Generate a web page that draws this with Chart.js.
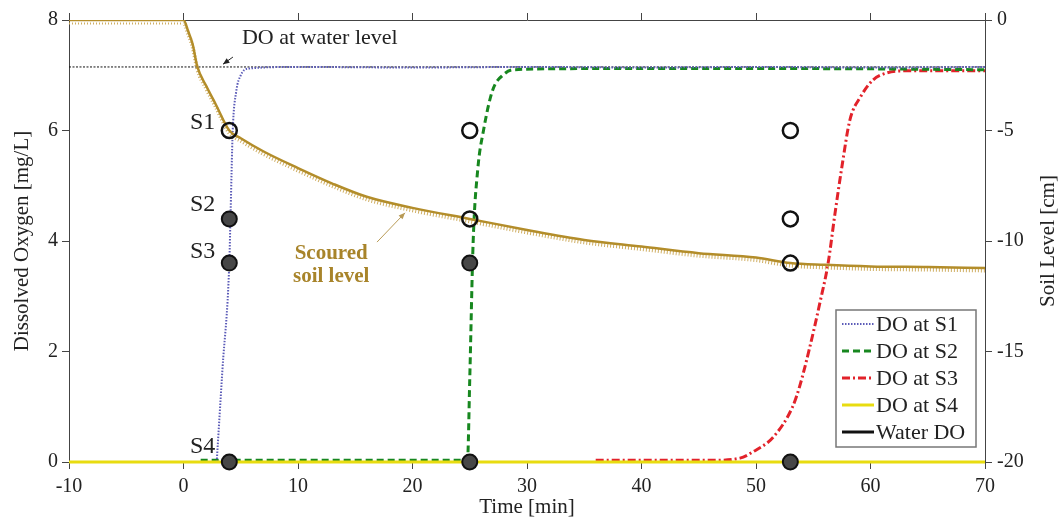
<!DOCTYPE html>
<html>
<head>
<meta charset="utf-8">
<script src="https://cdn.jsdelivr.net/npm/chart.js@4.4.0/dist/chart.umd.min.js"></script>
<style>
html, body { margin: 0; padding: 0; background: #fff; }
#wrap { width: 1062px; height: 519px; }
</style>
</head>
<body>
<div id="wrap"><canvas id="do-chart"></canvas></div>
<script>
// time [min] / dissolved oxygen [mg/L] for each sensor
var timeS1 = [2.9, 3.4, 4.0, 4.1, 4.3, 4.6, 5.0, 5.6, 10, 20, 30, 40, 50, 60, 70];
var doS1   = [0, 1.67, 3.6, 4.4, 6.0, 6.7, 7.0, 7.12, 7.15, 7.14, 7.15, 7.14, 7.15, 7.14, 7.15];

var timeS2 = [1.5, 24.8, 25.0, 25.3, 25.7, 26.2, 27.0, 28.0, 28.8, 35, 45, 55, 70];
var doS2   = [0.03, 0.03, 1.5, 4.0, 5.3, 6.0, 6.73, 7.02, 7.1, 7.12, 7.12, 7.12, 7.1];

var timeS3 = [36, 46, 48.6, 49.7, 51.5, 53.2, 53.8, 54.7, 55.6, 56.3, 56.9, 57.5, 58.2, 59.1, 60.2, 61.4, 63, 70];
var doS3   = [0.03, 0.03, 0.07, 0.18, 0.45, 1.0, 1.36, 2.08, 2.9, 3.6, 4.5, 5.34, 6.19, 6.6, 6.91, 7.04, 7.08, 7.08];

var timeS4 = [-10, 70];
var doS4   = [0, 0];

var timeWater = [-10, 70];
var doWater   = [7.15, 7.15];

// scoured soil level [cm]
var timeSoil  = [-10, 0, 0.4, 0.8, 1.2, 2.0, 2.8, 4.0, 5.0, 7.0, 10, 13, 16, 20, 25, 30, 35, 40, 45, 50, 53, 56, 60, 65, 70];
var soilLevel = [0, 0, -0.5, -1.1, -2.1, -3.0, -3.8, -5.0, -5.35, -5.95, -6.7, -7.4, -8.0, -8.5, -9.0, -9.5, -9.95, -10.25, -10.55, -10.75, -11.0, -11.08, -11.15, -11.18, -11.22];

// sensor markers: open = above soil / in water, filled = buried
var openT   = [4, 25, 53, 25, 53, 53];
var openDO  = [6, 6, 6, 4.4, 4.4, 3.6];
var filledT  = [4, 4, 4, 25, 25, 53];
var filledDO = [4.4, 3.6, 0, 3.6, 0, 0];

var xTicks = [-10, 0, 10, 20, 30, 40, 50, 60, 70];
var doTicks = [0, 2, 4, 6, 8];
var soilTicks = [-20, -15, -10, -5, 0];

var serif = '"Liberation Serif", "Times New Roman", serif';
var soilColor = '#b38d2a';

function pairs(xs, ys) {
    return xs.map(function(x, i) { return {x: x, y: ys[i]}; });
}

// hatch under the soil line, drawn a few px lower
var hatchShift = {
    id: 'hatchShift',
    beforeDatasetDraw: function(chart, args) {
        if (chart.data.datasets[args.index].hatch) {
            chart.ctx.save();
            chart.ctx.translate(0, 2.5);
        }
    },
    afterDatasetDraw: function(chart, args) {
        if (chart.data.datasets[args.index].hatch) chart.ctx.restore();
    }
};

function arrow(ctx, x1, y1, x2, y2, color) {
    var a = Math.atan2(y2 - y1, x2 - x1);
    ctx.strokeStyle = color;
    ctx.fillStyle = color;
    ctx.lineWidth = 1;
    ctx.beginPath();
    ctx.moveTo(x1, y1);
    ctx.lineTo(x2, y2);
    ctx.stroke();
    ctx.beginPath();
    ctx.moveTo(x2, y2);
    ctx.lineTo(x2 - 7 * Math.cos(a - 0.4), y2 - 7 * Math.sin(a - 0.4));
    ctx.lineTo(x2 - 7 * Math.cos(a + 0.4), y2 - 7 * Math.sin(a + 0.4));
    ctx.closePath();
    ctx.fill();
}

var notes = {
    id: 'notes',
    afterDraw: function(chart) {
        var ctx = chart.ctx;
        var xs = chart.scales.x, ys = chart.scales.y;
        ctx.save();

        // sensor names
        ctx.fillStyle = '#222';
        ctx.font = '24px ' + serif;
        ctx.textAlign = 'right';
        ctx.textBaseline = 'middle';
        [['S1', 6, -8], ['S2', 4.4, -14], ['S3', 3.6, -11], ['S4', 0, -15]].forEach(function(s) {
            ctx.fillText(s[0], xs.getPixelForValue(4) - 14, ys.getPixelForValue(s[1]) + s[2]);
        });

        // DO at water level
        ctx.font = '22px ' + serif;
        ctx.textAlign = 'left';
        ctx.fillText('DO at water level', xs.getPixelForValue(5.1), ys.getPixelForValue(7.67));
        arrow(ctx, xs.getPixelForValue(4.32), ys.getPixelForValue(7.33),
              xs.getPixelForValue(3.45), ys.getPixelForValue(7.2), '#222');

        // scoured soil level
        ctx.fillStyle = '#a8842a';
        ctx.font = 'bold 21px ' + serif;
        ctx.textAlign = 'center';
        ctx.fillText('Scoured', xs.getPixelForValue(12.9), ys.getPixelForValue(3.78));
        ctx.fillText('soil level', xs.getPixelForValue(12.9), ys.getPixelForValue(3.35));
        arrow(ctx, xs.getPixelForValue(16.9), ys.getPixelForValue(3.98),
              xs.getPixelForValue(19.35), ys.getPixelForValue(4.51), '#b89a55');

        // right axis title, reading upwards
        ctx.fillStyle = '#222';
        ctx.font = '21px ' + serif;
        ctx.translate(1048, (chart.chartArea.top + chart.chartArea.bottom) / 2);
        ctx.rotate(-Math.PI / 2);
        ctx.textAlign = 'center';
        ctx.fillText('Soil Level [cm]', 0, 0);
        ctx.restore();

        // legend box
        ctx.save();
        ctx.fillStyle = '#fff';
        ctx.fillRect(836, 310, 140, 137);
        ctx.strokeStyle = '#777';
        ctx.lineWidth = 1.5;
        ctx.strokeRect(836, 310, 140, 137);
        ctx.font = '22px ' + serif;
        ctx.textAlign = 'left';
        ctx.textBaseline = 'middle';
        var row = 0;
        chart.data.datasets.forEach(function(ds) {
            if (!ds.inLegend) return;
            var y = 324 + row * 27;
            ctx.save();
            ctx.strokeStyle = ds.borderColor;
            ctx.lineWidth = ds.legendWidth || ds.borderWidth;
            ctx.setLineDash(ds.legendDash || ds.borderDash || []);
            ctx.beginPath();
            ctx.moveTo(842, y);
            ctx.lineTo(874, y);
            ctx.stroke();
            ctx.restore();
            ctx.fillStyle = '#222';
            ctx.fillText(ds.label, 876, y + 1);
            row++;
        });
        ctx.restore();
    }
};

var tickFont = { family: serif, size: 20 };

new Chart(document.getElementById('do-chart'), {
    type: 'line',
    data: {
        datasets: [
            { label: 'DO at S1', data: pairs(timeS1, doS1), borderColor: '#5c5cb8', borderWidth: 2,
              borderDash: [1.5, 1.5], legendDash: [1.5, 1.5], cubicInterpolationMode: 'monotone',
              pointRadius: 0, inLegend: true, order: 4, clip: false },
            { label: 'DO at S2', data: pairs(timeS2, doS2), borderColor: '#17871f', borderWidth: 3,
              borderDash: [7, 4], cubicInterpolationMode: 'monotone',
              pointRadius: 0, inLegend: true, order: 5, clip: false },
            { label: 'DO at S3', data: pairs(timeS3, doS3), borderColor: '#e2222a', borderWidth: 3,
              borderDash: [8, 3, 2, 3], cubicInterpolationMode: 'monotone',
              pointRadius: 0, inLegend: true, order: 6, clip: false },
            { label: 'DO at S4', data: pairs(timeS4, doS4), borderColor: '#e8dc10', borderWidth: 3,
              pointRadius: 0, inLegend: true, order: 3, clip: false },
            { label: 'Water DO', data: pairs(timeWater, doWater), borderColor: '#111', borderWidth: 1,
              borderDash: [2, 1.5], legendDash: [], legendWidth: 3,
              pointRadius: 0, inLegend: true, order: 7 },
            { label: 'Scoured soil level', data: pairs(timeSoil, soilLevel), yAxisID: 'ySoil',
              borderColor: soilColor, borderWidth: 2.5, cubicInterpolationMode: 'monotone',
              pointRadius: 0, order: 1 },
            { label: 'soil hatch', data: pairs(timeSoil, soilLevel), yAxisID: 'ySoil', hatch: true,
              borderColor: '#cfae62', borderWidth: 4, borderDash: [1, 2], cubicInterpolationMode: 'monotone',
              pointRadius: 0, order: 2 },
            { label: 'open sensors', data: pairs(openT, openDO), showLine: false, clip: false,
              pointRadius: 7.5, pointBorderWidth: 2.5, pointBorderColor: '#111',
              pointBackgroundColor: 'rgba(0,0,0,0)', borderColor: '#111', order: 0 },
            { label: 'buried sensors', data: pairs(filledT, filledDO), showLine: false, clip: false,
              pointRadius: 7.5, pointBorderWidth: 2, pointBorderColor: '#111',
              pointBackgroundColor: '#474747', borderColor: '#111', order: 0 }
        ]
    },
    options: {
        responsive: true,
        maintainAspectRatio: false,
        animation: false,
        devicePixelRatio: 1,
        layout: { padding: 0 },
        plugins: {
            legend: { display: false },
            tooltip: { enabled: false }
        },
        scales: {
            x: {
                type: 'linear', position: 'bottom', min: -10, max: 70,
                afterBuildTicks: function(s) { s.ticks = xTicks.map(function(v) { return {value: v}; }); },
                afterFit: function(s) { s.height = 57; },
                ticks: { font: tickFont, color: '#222', padding: 6, maxRotation: 0 },
                grid: { drawOnChartArea: false, tickLength: 7, color: '#444' },
                border: { color: '#444' },
                title: { display: true, text: 'Time [min]', font: { family: serif, size: 21, lineHeight: 1 },
                         color: '#222', padding: { top: 0, bottom: 1 } }
            },
            xTop: {
                type: 'linear', position: 'top', min: -10, max: 70,
                afterBuildTicks: function(s) { s.ticks = xTicks.map(function(v) { return {value: v}; }); },
                afterFit: function(s) { s.height = 20; },
                ticks: { display: false },
                grid: { drawOnChartArea: false, tickLength: 7, color: '#444' },
                border: { color: '#444' }
            },
            y: {
                type: 'linear', position: 'left', min: 0, max: 8,
                afterBuildTicks: function(s) { s.ticks = doTicks.map(function(v) { return {value: v}; }); },
                afterFit: function(s) { s.width = 69; },
                ticks: { font: tickFont, color: '#222', padding: 4 },
                grid: { drawOnChartArea: false, tickLength: 7, color: '#444' },
                border: { color: '#444' },
                title: { display: true, text: 'Dissolved Oxygen [mg/L]', font: { family: serif, size: 21, lineHeight: 1 },
                         color: '#222', padding: { top: 12, bottom: 0 } }
            },
            ySoil: {
                type: 'linear', position: 'right', min: -20, max: 0,
                afterBuildTicks: function(s) { s.ticks = soilTicks.map(function(v) { return {value: v}; }); },
                afterFit: function(s) { s.width = 77; },
                ticks: { font: tickFont, color: '#222', padding: 5 },
                grid: { drawOnChartArea: false, tickLength: 7, color: '#444' },
                border: { color: '#444' }
            }
        }
    },
    plugins: [hatchShift, notes]
});
</script>
</body>
</html>
